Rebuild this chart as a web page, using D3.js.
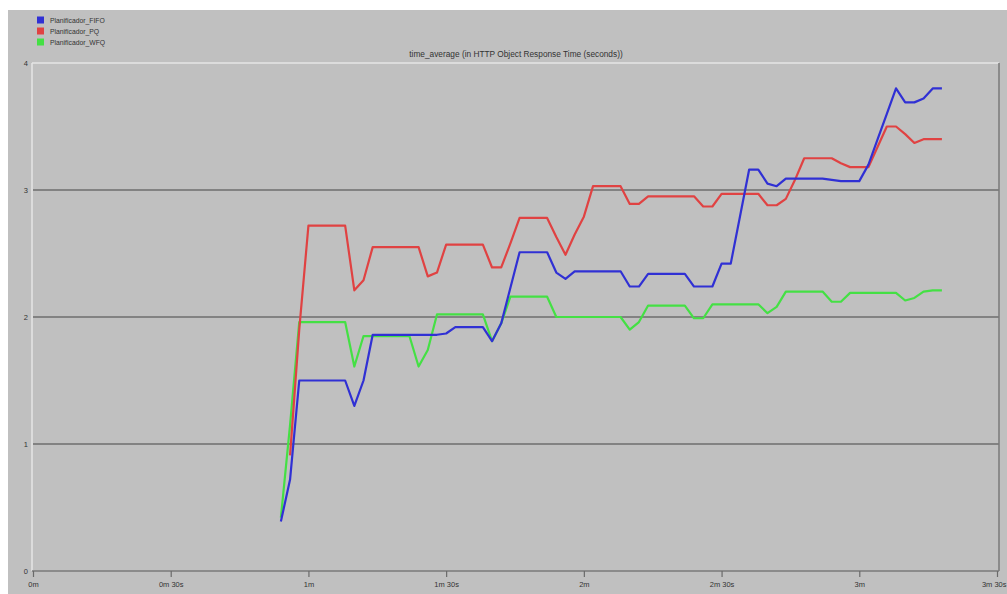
<!DOCTYPE html>
<html>
<head>
<meta charset="utf-8">
<script src="https://cdn.jsdelivr.net/npm/d3@7"></script>
<style>
  html, body { margin: 0; padding: 0; background: #ffffff; }
  svg { display: block; }
  text { font-family: "Liberation Sans", Arial, sans-serif; fill: #333; }
</style>
</head>
<body>
<svg id="chart" width="1007" height="594"></svg>
<script>
// Sample times (seconds) of the time-averaged statistic
const times = [54,56,58,60,62,64,66,68,70,72,74,76,78,80,82,84,86,88,90,92,94,96,98,100,
  102,104,106,108,110,112,114,116,118,120,122,124,126,128,130,132,134,136,138,140,142,144,
  146,148,150,152,154,156,158,160,162,164,166,168,170,172,174,176,178,180,182,184,186,188,
  190,192,194,196,198];

// HTTP object response time (seconds), one array per scheduler
const fifo = [0.39,0.72,1.50,1.50,1.50,1.50,1.50,1.50,1.30,1.50,1.86,1.86,1.86,1.86,1.86,1.86,
  1.86,1.86,1.87,1.92,1.92,1.92,1.92,1.81,1.95,2.23,2.51,2.51,2.51,2.51,2.35,2.30,2.36,2.36,
  2.36,2.36,2.36,2.36,2.24,2.24,2.34,2.34,2.34,2.34,2.34,2.24,2.24,2.24,2.42,2.42,2.79,3.16,
  3.16,3.05,3.03,3.09,3.09,3.09,3.09,3.09,3.08,3.07,3.07,3.07,3.20,3.40,3.60,3.80,3.69,3.69,
  3.72,3.80,3.80];

const pq = [null,0.91,1.90,2.72,2.72,2.72,2.72,2.72,2.21,2.29,2.55,2.55,2.55,2.55,2.55,2.55,
  2.32,2.35,2.57,2.57,2.57,2.57,2.57,2.39,2.39,2.58,2.78,2.78,2.78,2.78,2.63,2.49,2.65,2.79,
  3.03,3.03,3.03,3.03,2.89,2.89,2.95,2.95,2.95,2.95,2.95,2.95,2.87,2.87,2.97,2.97,2.97,2.97,
  2.97,2.88,2.88,2.93,3.08,3.25,3.25,3.25,3.25,3.21,3.18,3.18,3.18,3.34,3.50,3.50,3.44,3.37,
  3.40,3.40,3.40];

const wfq = [0.42,1.15,1.96,1.96,1.96,1.96,1.96,1.96,1.61,1.85,1.85,1.85,1.85,1.85,1.85,1.61,
  1.74,2.02,2.02,2.02,2.02,2.02,2.02,1.81,1.95,2.16,2.16,2.16,2.16,2.16,2.00,2.00,2.00,2.00,
  2.00,2.00,2.00,2.00,1.90,1.96,2.09,2.09,2.09,2.09,2.09,1.99,1.99,2.10,2.10,2.10,2.10,2.10,
  2.10,2.03,2.08,2.20,2.20,2.20,2.20,2.20,2.12,2.12,2.19,2.19,2.19,2.19,2.19,2.19,2.13,2.15,
  2.20,2.21,2.21];

const seriesNames = ["Planificador_FIFO", "Planificador_PQ", "Planificador_WFQ"];
const seriesColors = ["#3030d4", "#e04242", "#44e044"];
const xTickValues = [0, 30, 60, 90, 120, 150, 180, 210];
const xTickLabels = ["0m", "0m 30s", "1m", "1m 30s", "2m", "2m 30s", "3m", "3m 30s"];
const yTickValues = [0, 1, 2, 3, 4];
const gridValues = [1, 2, 3];
const chartTitle = "time_average (in HTTP Object Response Time (seconds))";

const svg = d3.select("#chart");

// panel background
svg.append("rect").attr("x", 8).attr("y", 10).attr("width", 999).attr("height", 584)
  .attr("fill", "#c0c0c0");

const x = d3.scaleLinear().domain([0, 210]).range([33, 997]);
const y = d3.scaleLinear().domain([0, 4]).range([571, 63]);
const plotRight = 999;

// horizontal grid lines
svg.append("g").selectAll("line").data(gridValues).join("line")
  .attr("x1", x(0)).attr("x2", plotRight)
  .attr("y1", d => y(d)).attr("y2", d => y(d))
  .attr("stroke", "#6e6e6e").attr("stroke-width", 1.6);

// frame: light top/left, dark right/bottom
svg.append("line").attr("x1", x(0) - 1).attr("x2", plotRight).attr("y1", y(4)).attr("y2", y(4))
  .attr("stroke", "#e6e6e6").attr("stroke-width", 1.5);
svg.append("line").attr("x1", x(0) - 1).attr("x2", x(0) - 1).attr("y1", y(4)).attr("y2", y(0))
  .attr("stroke", "#e6e6e6").attr("stroke-width", 1.5);
svg.append("line").attr("x1", plotRight).attr("x2", plotRight).attr("y1", y(4)).attr("y2", y(0))
  .attr("stroke", "#7a7a7a").attr("stroke-width", 1.5);

// x axis
const xAxis = d3.axisBottom(x).tickValues(xTickValues)
  .tickFormat((d, i) => xTickLabels[i]).tickSize(6).tickPadding(5);
const gx = svg.append("g").attr("transform", `translate(0,${y(0)})`).call(xAxis);
gx.select(".domain").attr("d", `M${x(0) - 1},0H${plotRight}`).attr("stroke", "#7a7a7a")
  .attr("stroke-width", 1.5);
gx.selectAll(".tick line").attr("stroke", "#6a6a6a").attr("stroke-width", 1.2);
gx.selectAll(".tick text").attr("font-size", 7.5).attr("fill", "#333")
  .attr("font-family", "Liberation Sans, Arial, sans-serif");
// keep the last label inside the panel edge
gx.selectAll(".tick text").filter(d => d === 210)
  .attr("text-anchor", "end").attr("dx", 9);

// y axis labels
const yAxis = d3.axisLeft(y).tickValues(yTickValues).tickFormat(d3.format("d"))
  .tickSize(0).tickPadding(4);
const gy = svg.append("g").attr("transform", `translate(${x(0) - 1},0)`).call(yAxis);
gy.select(".domain").remove();
gy.selectAll(".tick text").attr("font-size", 7.5).attr("fill", "#333")
  .attr("font-family", "Liberation Sans, Arial, sans-serif");

// title
svg.append("text").attr("x", 516).attr("y", 57).attr("text-anchor", "middle")
  .attr("font-size", 8.3).text(chartTitle);

// series lines
const data = [fifo, pq, wfq];
const line = d3.line()
  .defined(d => d[1] !== null)
  .x(d => x(d[0]))
  .y(d => y(d[1]));

const drawOrder = [2, 1, 0];
svg.append("g").selectAll("path").data(drawOrder).join("path")
  .attr("d", i => line(times.map((t, k) => [t, data[i][k]])))
  .attr("fill", "none")
  .attr("stroke", i => seriesColors[i])
  .attr("stroke-width", 2.2)
  .attr("stroke-linejoin", "round");

// legend
const legend = svg.append("g");
seriesNames.forEach((name, i) => {
  legend.append("rect").attr("x", 37).attr("y", 16.5 + i * 11).attr("width", 7).attr("height", 7)
    .attr("fill", seriesColors[i]);
  legend.append("text").attr("x", 50).attr("y", 23 + i * 11).attr("font-size", 6.8)
    .text(name);
});
</script>
</body>
</html>
